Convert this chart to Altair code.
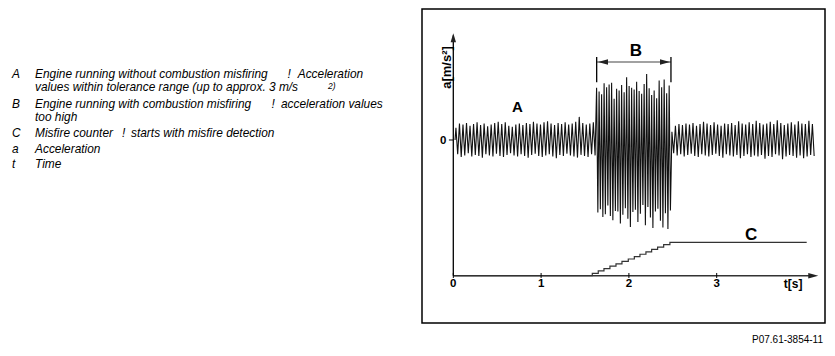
import altair as alt
import pandas as pd

FONT = "Liberation Sans"

# ---------------- data ----------------
# extremes of the acceleration signal (m/s^2), segment A (no misfire)
A_PEAKS = [2.2, 3.0, 2.8, 3.1, 2.6, 2.9, 3.2, 2.7, 3.0, 2.5, 2.8, 3.1, 3.3, 2.9, 3.2, 2.6, 2.4, 2.8, 3.0, 2.7,
           3.1, 2.9, 3.3, 3.0, 2.8, 3.2, 3.4, 3.0, 2.7, 3.1, 2.9, 3.2, 2.8, 3.0, 3.3, 4.2, 3.1, 2.8, 3.0, 3.2]
A_TROUGHS = [-2.6, -3.1, -2.8, -2.4, -3.0, -2.7, -2.9, -3.2, -2.6, -2.8, -3.0, -2.5, -2.9, -3.1, -2.7, -2.4, -2.8,
             -3.0, -2.6, -2.9, -3.2, -2.7, -2.5, -2.9, -3.1, -2.8, -2.6, -3.0, -3.3, -2.7, -2.9, -2.5, -2.8, -3.0,
             -3.2, -2.7, -2.9, -3.1, -2.6, -2.8]
# segment B (misfire)
B_PEAKS = [9.5, 8.8, 8.3, 10.3, 9.6, 10.1, 10.4, 7.5, 9.3, 9.0, 10.0, 8.7, 11.4, 9.8, 9.5, 9.2, 10.6, 8.9,
           8.4, 10.2, 12.0, 9.4, 8.2, 9.0, 7.6, 10.8, 9.6, 11.0, 8.5, 9.9]
B_TROUGHS = [-13.2, -12.6, -14.0, -13.5, -11.9, -13.8, -14.6, -12.9, -13.0, -15.2, -13.6, -12.4, -14.3, -15.8,
             -13.1, -12.7, -14.9, -13.4, -11.8, -15.5, -12.2, -14.1, -16.0, -13.0, -12.5, -14.7, -15.9,
             -13.3, -16.2, -12.8]
# segment after B
D_PEAKS = [1.5, 2.6, 2.9, 2.7, 3.0, 2.8, 3.1, 2.6, 2.9, 3.3, 3.0, 2.7, 3.2, 2.8, 2.6, 3.0, 2.9, 3.1, 2.7, 3.4,
           3.0, 2.8, 3.2, 2.9, 3.5, 3.1, 2.8, 3.0, 3.3, 2.9, 3.6, 3.1, 2.7, 3.0, 3.2, 2.8, 3.4, 3.0, 2.9, 3.5, 2.9]
D_TROUGHS = [-2.4, -2.8, -2.6, -3.0, -2.7, -2.5, -2.9, -3.1, -2.6, -2.8, -3.0, -2.7, -2.5, -2.9, -3.2, -2.6,
             -2.8, -3.0, -2.7, -3.3, -2.9, -2.6, -3.1, -2.8, -3.0, -2.7, -3.4, -2.9, -3.1, -2.6, -2.8, -3.5,
             -3.0, -2.7, -2.9, -3.2, -2.8, -3.3, -3.0, -2.7, -2.9]
SEGMENT_BOUNDS = [0.02, 1.625, 2.48, 4.12]  # s

# misfire counter C
COUNTER_T = [0.0, 1.583, 1.651, 1.716, 1.784, 1.853, 1.921, 1.993, 2.062, 2.126, 2.194, 2.259, 2.327,
             2.396, 2.467, 4.025]
COUNTER_N = [0, 1, 2, 3, 4, 5, 6, 7, 8, 9, 10, 11, 12, 13, 14, 14]

X_TICKS = [0, 1, 2, 3]
X_TICK_LABELS = ["0", "1", "2", "3"]
Y_TICKS = [0]
Y_TICK_LABELS = ["0"]

# legend: (key, [text pieces]) per row
LEGEND_KEYS = ["A", "", "B", "", "C", "a", "t"]
LEGEND_PIECES = [
    ["Engine running without combustion misfiring", "!", "Acceleration"],
    ["values within tolerance range (up to approx. 3 m/s"],
    ["Engine running with combustion misfiring", "!", "acceleration values"],
    ["too high"],
    ["Misfire counter", "!", "starts with misfire detection"],
    ["Acceleration"],
    ["Time"],
]
SUPERSCRIPT = "2)"
FOOTER = "P07.61-3854-11"

# ---------------- build tables ----------------
rows = [{"t": SEGMENT_BOUNDS[0], "a": 0.0}]
segments = [(A_PEAKS, A_TROUGHS), (B_PEAKS, B_TROUGHS), (D_PEAKS, D_TROUGHS)]
for k, (pk, tr) in enumerate(segments):
    vals = []
    for p, q in zip(pk, tr):
        vals += [p, q]
    t0, t1 = SEGMENT_BOUNDS[k], SEGMENT_BOUNDS[k + 1]
    dt = (t1 - t0) / len(vals)
    for i, v in enumerate(vals):
        rows.append({"t": t0 + (i + 0.5) * dt, "a": v})
sig_df = pd.DataFrame(rows)
cnt_df = pd.DataFrame({"t": COUNTER_T, "n": COUNTER_N})

XS = alt.Scale(domain=[-0.3565, 4.2335], nice=False, zero=False)
YA = alt.Scale(domain=[-33.273, 23.818], nice=False, zero=False)
YC = alt.Scale(domain=[-19.82, 111.78], nice=False, zero=False)

X_AXIS_Y = -24.67
Y_AXIS_TOP = 19.0


def xq(f="t"):
    return alt.X(f"{f}:Q", scale=XS, axis=None)


def yq(f):
    return alt.Y(f"{f}:Q", scale=YA, axis=None)


signal = alt.Chart(sig_df).mark_line(color="#111", strokeWidth=1.1).encode(x=xq(), y=yq("a"))

counter = alt.Chart(cnt_df).mark_line(color="#333", strokeWidth=1.2, interpolate="step-after").encode(
    x=xq(), y=alt.Y("n:Q", scale=YC, axis=None))

# axes lines
hrules = pd.DataFrame({"t": [0.0, 1.633], "t2": [4.10, 2.479], "y": [X_AXIS_Y, 14.18],
                       "c": ["x", "b"]})
h_axis = alt.Chart(hrules[hrules.c == "x"]).mark_rule(color="#333", strokeWidth=1.6).encode(
    x=xq(), x2="t2:Q", y=yq("y"))
h_b = alt.Chart(hrules[hrules.c == "b"]).mark_rule(color="#444", strokeWidth=1.1).encode(
    x=xq(), x2="t2:Q", y=yq("y"))

vrules = pd.DataFrame({"t": [0.0, 1.633, 2.479], "y": [X_AXIS_Y, 10.5, 10.5], "y2": [Y_AXIS_TOP, 15.1, 15.1]})
v_rules = alt.Chart(vrules).mark_rule(color="black", strokeWidth=1.3).encode(x=xq(), y=yq("y"), y2="y2:Q")

xt = pd.DataFrame({"t": X_TICKS, "y": [-24.18] * len(X_TICKS), "y2": [-25.09] * len(X_TICKS)})
x_ticks = alt.Chart(xt).mark_rule(color="black", strokeWidth=1).encode(x=xq(), y=yq("y"), y2="y2:Q")
yt = pd.DataFrame({"t": [-0.05], "t2": [0.0], "y": Y_TICKS})
y_ticks = alt.Chart(yt).mark_rule(color="black", strokeWidth=1).encode(x=xq(), x2="t2:Q", y=yq("y"))

UP = "M0,-1L0.6,1L-0.6,1Z"
RIGHT = "M1,0L-1,-0.55L-1,0.55Z"
LEFT = "M-1,0L1,-0.55L1,0.55Z"
arrows = pd.DataFrame({"t": [0.0, 4.100, 1.705, 2.411], "y": [18.58, X_AXIS_Y, 14.18, 14.18],
                       "k": ["up", "right", "left", "right"], "s": [81, 100, 100, 100]})
arrow_layers = []
for k, shp in [("up", UP), ("right", RIGHT), ("left", LEFT)]:
    arrow_layers.append(alt.Chart(arrows[arrows.k == k]).mark_point(
        shape=shp, filled=True, color="#222", opacity=1, strokeWidth=0).encode(
        x=xq(), y=yq("y"), size=alt.Size("s:Q", scale=None, legend=None)))

tick_lab = pd.DataFrame({"t": X_TICKS, "y": [-26.18] * len(X_TICKS), "txt": X_TICK_LABELS})
tick_text = alt.Chart(tick_lab).mark_text(font=FONT, fontSize=11.5, fontWeight="bold", baseline="middle",
                                          align="center").encode(x=xq(), y=yq("y"), text="txt:N")
ts = pd.DataFrame({"t": [3.87], "y": [-26.18], "txt": ["t[s]"]})
ts_text = alt.Chart(ts).mark_text(font=FONT, fontSize=12, fontWeight="bold", baseline="middle",
                                  align="center").encode(x=xq(), y=yq("y"), text="txt:N")
y0 = pd.DataFrame({"t": [-0.114], "y": [-0.18], "txt": Y_TICK_LABELS})
y0_text = alt.Chart(y0).mark_text(font=FONT, fontSize=11.5, fontWeight="bold", baseline="middle",
                                  align="center").encode(x=xq(), y=yq("y"), text="txt:N")
ya = pd.DataFrame({"t": [-0.077], "y": [13.18], "txt": ["a[m/s²]"]})
ya_text = alt.Chart(ya).mark_text(font=FONT, fontSize=13, fontWeight="bold", baseline="middle",
                                  align="center", angle=270).encode(x=xq(), y=yq("y"), text="txt:N")

letters = pd.DataFrame({"t": [0.731, 2.081, 3.391], "y": [6.05, 16.15, -17.27], "txt": ["A", "B", "C"],
                        "fs": [15, 17, 17]})
letter_layers = []
for _, r in letters.iterrows():
    letter_layers.append(alt.Chart(letters[letters.txt == r.txt]).mark_text(
        font=FONT, fontSize=float(r.fs), fontWeight="bold", baseline="middle", align="center").encode(
        x=xq(), y=yq("y"), text="txt:N"))


def label(text, x, y, size=11.9, style="italic", align="left", weight="normal"):
    return alt.Chart(alt.Data(values=[{"v": 1}])).mark_text(
        text=text, font=FONT, fontSize=size, fontStyle=style, fontWeight=weight, align=align,
        baseline="middle", color="black").encode(x=alt.value(x), y=alt.value(y))


legend_y = [65, 78.3, 95.3, 108.3, 124.3, 140, 155.3]
piece_x = {0: [-387, -134.5, -124.3], 1: [-387], 2: [-387, -150.5, -141], 3: [-387],
           4: [-387, -300, -291], 5: [-387], 6: [-387]}
legend_layers = []
for i, (key, pieces, yy) in enumerate(zip(LEGEND_KEYS, LEGEND_PIECES, legend_y)):
    if key:
        legend_layers.append(label(key, -410, yy))
    for p, px in zip(pieces, piece_x[i]):
        legend_layers.append(label(p, px, yy))
legend_layers.append(label(SUPERSCRIPT, -94, 77.0, size=8.5))
legend_layers.append(label(FOOTER, 401, 331, size=10, style="normal", align="right"))

chart = alt.layer(
    signal, counter, h_axis, h_b, v_rules, x_ticks, y_ticks, *arrow_layers,
    tick_text, ts_text, y0_text, ya_text, *letter_layers, *legend_layers
).resolve_scale(y="independent", x="shared", size="independent").properties(
    width=403, height=314,
    autosize=alt.AutoSizeParams(type="none"),
    padding={"left": 414, "top": 1, "right": 1, "bottom": 24},
).configure_view(stroke="black", strokeWidth=1.5)

chart.save("out.html", embed_options={"renderer": "svg", "actions": False})
